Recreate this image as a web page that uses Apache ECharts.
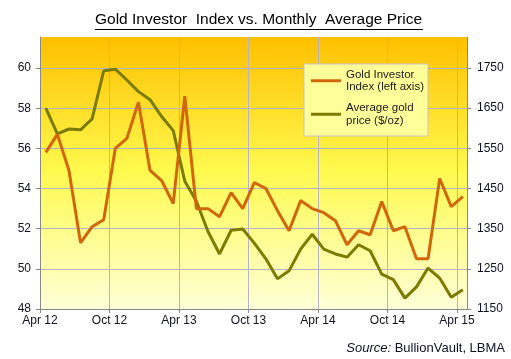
<!DOCTYPE html>
<html><head><meta charset="utf-8">
<script src="https://cdn.jsdelivr.net/npm/echarts@6/dist/echarts.min.js"></script>
<style>html,body{margin:0;padding:0;background:#fff}#c{width:511px;height:359px}</style>
</head><body><div id="c"></div>
<script>
const months = ['Apr 12','May 12','Jun 12','Jul 12','Aug 12','Sep 12','Oct 12','Nov 12','Dec 12',
  'Jan 13','Feb 13','Mar 13','Apr 13','May 13','Jun 13','Jul 13','Aug 13','Sep 13','Oct 13','Nov 13','Dec 13',
  'Jan 14','Feb 14','Mar 14','Apr 14','May 14','Jun 14','Jul 14','Aug 14','Sep 14','Oct 14','Nov 14','Dec 14',
  'Jan 15','Feb 15','Mar 15','Apr 15'];
const xTickLabels = ['Apr 12','Oct 12','Apr 13','Oct 13','Apr 14','Oct 14','Apr 15'];
const investorIndex = [55.8,56.7,54.9,51.3,52.1,52.45,56.0,56.5,58.3,54.9,54.4,53.25,58.6,53.0,53.0,52.6,53.8,53.0,54.3,54.0,52.9,51.9,53.4,53.0,52.8,52.4,51.2,51.9,51.7,53.35,51.9,52.1,50.5,50.5,54.5,53.1,53.6];
const goldPrice = [1650,1586,1598,1596,1623,1743,1747,1720,1691,1671,1629,1594,1468,1418,1343,1287,1346,1349,1314,1275,1225,1245,1299,1336,1299,1287,1279,1310,1295,1237,1223,1177,1205,1252,1227,1179,1198];
const seriesNames = ['Gold Investor\nIndex (left axis)', 'Average gold\nprice ($/oz)'];

const chart = echarts.init(document.getElementById('c'), null, {renderer: 'canvas'});
const grid = '#B4B4C4';
const labelColor = '#111122';
chart.setOption({
  animation: false,
  backgroundColor: '#ffffff',
  title: [{
    text: 'Gold Investor  Index vs. Monthly  Average Price',
    left: 95, top: 12, padding: 0,
    textStyle: {fontFamily: 'Liberation Sans, Arial', fontSize: 15.5, fontWeight: 'normal', color: '#000'}
  }, {
    text: '{i|Source:} BullionVault, LBMA',
    right: 6, top: 342, padding: 0,
    textStyle: {fontFamily: 'Liberation Sans, Arial', fontSize: 13, fontWeight: 'normal', color: labelColor,
      rich: {i: {fontStyle: 'italic', fontFamily: 'Liberation Sans, Arial', fontSize: 13, color: labelColor}}}
  }],
  graphic: [{
    type: 'line', shape: {x1: 95, y1: 29.5, x2: 423, y2: 29.5},
    style: {stroke: '#000', lineWidth: 1}
  }],
  grid: {
    left: 40, right: 44, top: 37, bottom: 50, show: true, borderWidth: 0,
    backgroundColor: new echarts.graphic.LinearGradient(0, 0, 0, 1, [
      {offset: 0, color: '#FFC000'},
      {offset: 0.5, color: '#FFFA50'},
      {offset: 1, color: '#FFFFD8'}
    ])
  },
  legend: {
    left: 304, top: 64, orient: 'vertical',
    backgroundColor: '#FFFF99', borderColor: '#C4C4C4', borderWidth: 1,
    padding: [-2, 4, 3, 7], itemGap: -4,
    itemWidth: 30, itemHeight: 3, icon: 'rect', itemStyle: {borderWidth: 0},
    textStyle: {fontFamily: 'Liberation Sans, Arial', fontSize: 11.5, color: '#1a1a1a', lineHeight: 12.5, padding: [12.5, 0, 0, 0]},
    data: seriesNames
  },
  xAxis: {
    type: 'value', min: 0, max: 36.86, interval: 6,
    axisLine: {show: true, lineStyle: {color: '#888'}},
    axisTick: {show: true, length: 4, lineStyle: {color: '#888'}},
    axisLabel: {
      margin: 6, fontFamily: 'Liberation Sans, Arial', fontSize: 12, color: labelColor,
      showMaxLabel: false,
      formatter: v => { const k = Math.round(v / 6); return (Math.abs(v - k * 6) < 1e-6 && xTickLabels[k]) ? xTickLabels[k] : ''; }
    },
    splitLine: {show: true, lineStyle: {color: [grid, grid, grid, grid, grid, grid, grid, 'transparent'], width: 1}}
  },
  yAxis: [{
    type: 'value', min: 48, max: 61.55, interval: 2, position: 'left',
    axisLine: {show: true, lineStyle: {color: '#888'}},
    axisTick: {show: true, length: 4, lineStyle: {color: '#888'}},
    axisLabel: {margin: 9, fontFamily: 'Liberation Sans, Arial', fontSize: 12, color: labelColor, showMaxLabel: false},
    splitLine: {show: true, lineStyle: {color: [grid, grid, grid, grid, grid, grid, grid, 'transparent'], width: 1}}
  }, {
    type: 'value', min: 1150, max: 1827, interval: 100, position: 'right',
    axisLine: {show: true, lineStyle: {color: '#888'}},
    axisTick: {show: true, length: 4, lineStyle: {color: '#888'}},
    axisLabel: {margin: 10, fontFamily: 'Liberation Sans, Arial', fontSize: 12, color: labelColor, showMaxLabel: false,
      formatter: v => String(Math.round(v))},
    splitLine: {show: false}
  }],
  series: [{
    name: seriesNames[0], type: 'line', yAxisIndex: 0, showSymbol: false, symbol: 'none',
    lineStyle: {color: '#D0670A', width: 3}, itemStyle: {color: '#D0670A'},
    data: months.map((m, i) => [i + 0.5, investorIndex[i]]),
    z: 3
  }, {
    name: seriesNames[1], type: 'line', yAxisIndex: 1, showSymbol: false, symbol: 'none',
    lineStyle: {color: '#7B7B00', width: 3}, itemStyle: {color: '#7B7B00'},
    data: months.map((m, i) => [i + 0.5, goldPrice[i]]),
    z: 2
  }]
});
</script>
</body></html>
